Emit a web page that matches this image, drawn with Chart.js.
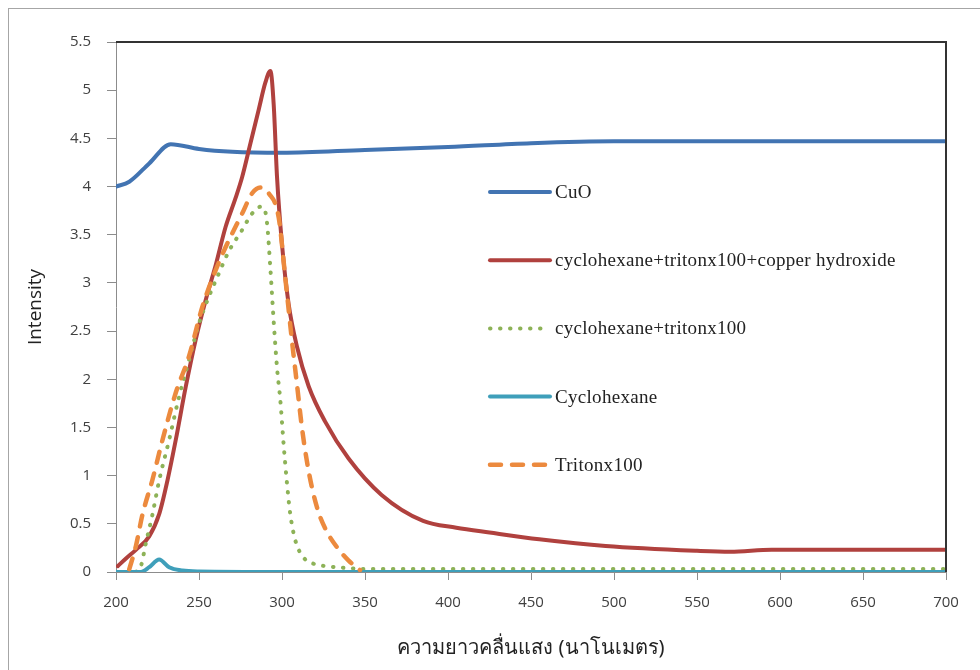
<!DOCTYPE html>
<html>
<head>
<meta charset="utf-8">
<script src="https://cdn.jsdelivr.net/npm/chart.js@4.4.1/dist/chart.umd.min.js"></script>
<style>
  body { margin: 0; background: #fff; }
  #wrap { width: 980px; height: 670px; }
</style>
</head>
<body>
<div id="wrap"><canvas id="myChart" width="980" height="670"></canvas></div>
<script>
// wavelength (nm) / intensity readings for each series
const cuoX = [200, 208, 220, 233, 250, 270, 300, 350, 400, 450, 500, 600, 700];
const cuoY = [4.00, 4.05, 4.24, 4.44, 4.39, 4.36, 4.35, 4.38, 4.41, 4.45, 4.47, 4.47, 4.47];

const copperX = [201, 206, 212, 220, 226, 231, 236, 242, 248, 254, 260, 266, 272, 276, 281, 286, 290, 293, 295, 297, 300, 304, 309, 316, 326, 340, 360, 385, 405, 425, 455, 495, 550, 570, 595, 650, 700];
const copperY = [0.06, 0.14, 0.23, 0.37, 0.60, 0.95, 1.37, 1.92, 2.41, 2.82, 3.18, 3.58, 3.88, 4.10, 4.45, 4.80, 5.08, 5.20, 4.85, 4.10, 3.40, 2.78, 2.34, 1.93, 1.56, 1.18, 0.80, 0.53, 0.46, 0.41, 0.34, 0.27, 0.22, 0.21, 0.23, 0.23, 0.23];

const mixX = [212, 215, 218, 222, 226, 232, 238, 244, 250, 256, 262, 268, 276, 282, 287, 289, 291, 293, 295, 297, 299, 301, 303, 305, 308, 313, 320, 327, 340, 350, 700];
const mixY = [0.00, 0.06, 0.30, 0.60, 0.95, 1.37, 1.82, 2.20, 2.58, 2.86, 3.10, 3.33, 3.55, 3.72, 3.79, 3.78, 3.62, 3.15, 2.60, 2.12, 1.78, 1.32, 0.92, 0.60, 0.33, 0.15, 0.08, 0.06, 0.04, 0.03, 0.03];

const cycloX = [200, 215, 220, 226, 232, 240, 250, 300, 700];
const cycloY = [0.00, 0.00, 0.05, 0.13, 0.05, 0.015, 0.005, 0.00, 0.00];

const tritonX = [208, 212, 216, 222, 228, 236, 244, 252, 260, 266, 276, 282, 287, 292, 298, 302, 306, 309, 312, 315, 318, 322, 327, 333, 340, 347];
const tritonY = [0.03, 0.27, 0.60, 0.96, 1.37, 1.86, 2.24, 2.75, 3.13, 3.37, 3.72, 3.93, 3.99, 3.93, 3.68, 3.05, 2.40, 1.95, 1.50, 1.15, 0.88, 0.62, 0.42, 0.26, 0.12, 0.02];

const seriesNames = ['CuO', 'cyclohexane+tritonx100+copper hydroxide', 'cyclohexane+tritonx100', 'Cyclohexane', 'Tritonx100'];
const xTitle = 'ความยาวคลื่นแสง (นาโนเมตร)';
const yTitle = 'Intensity';

function pts(xs, ys) {
  return xs.map((x, i) => ({ x: x, y: ys[i] }));
}

function line(label, xs, ys, color, extra) {
  return Object.assign({
    label: label,
    data: pts(xs, ys),
    borderColor: color,
    backgroundColor: color,
    borderWidth: 4,
    pointRadius: 0,
    fill: false,
    cubicInterpolationMode: 'monotone',
    borderCapStyle: 'round',
    borderJoinStyle: 'round'
  }, extra || {});
}

const datasets = [
  line(seriesNames[0], cuoX, cuoY, '#4274b2', { order: 5 }),
  line(seriesNames[1], copperX, copperY, '#b0413e', { order: 4 }),
  line(seriesNames[2], mixX, mixY, '#8db257', { order: 3, borderDash: [0.5, 9.5], borderWidth: 4 }),
  line(seriesNames[3], cycloX, cycloY, '#3f9fba', { order: 2 }),
  line(seriesNames[4], tritonX, tritonY, '#ec8a3e', { order: 1, borderDash: [11, 11], borderWidth: 4.5 })
];

// frame around the whole picture, dark top/right border of the plot, in-plot legend
const decorations = {
  id: 'decorations',
  beforeDraw(chart) {
    const c = chart.ctx;
    c.save();
    c.fillStyle = '#fff';
    c.fillRect(0, 0, chart.width, chart.height);
    c.strokeStyle = '#a6a6a6';
    c.lineWidth = 1;
    c.strokeRect(8.5, 8.5, chart.width, chart.height);
    c.restore();
  },
  afterDraw(chart) {
    const c = chart.ctx;
    const a = chart.chartArea;
    c.save();
    c.strokeStyle = '#333';
    c.lineWidth = 2;
    c.beginPath();
    c.moveTo(a.left, a.top);
    c.lineTo(a.right, a.top);
    c.lineTo(a.right, a.bottom);
    c.stroke();

    // legend
    const x0 = a.left + 374, x1 = a.left + 434, tx = a.left + 439;
    c.font = '19px "Liberation Serif", "Times New Roman", serif';
    c.letterSpacing = '0.3px';
    c.textBaseline = 'middle';
    chart.data.datasets.forEach((ds, i) => {
      const y = a.top + 150 + i * 68.2;
      c.beginPath();
      c.strokeStyle = ds.borderColor;
      c.lineWidth = ds.borderWidth;
      c.lineCap = 'round';
      c.setLineDash(ds.borderDash || []);
      c.moveTo(x0, y);
      c.lineTo(x1, y);
      c.stroke();
      c.setLineDash([]);
      c.fillStyle = '#222';
      c.fillText(ds.label, tx, y + 1);
    });
    c.restore();
  }
};

const ctx = document.getElementById('myChart').getContext('2d');

const myChart = new Chart(ctx, {
  type: 'line',
  data: { datasets: datasets },
  options: {
    responsive: false,
    animation: false,
    layout: { padding: { top: 42, right: 34, left: 0, bottom: 0 } },
    plugins: {
      legend: { display: false },
      tooltip: { enabled: false }
    },
    scales: {
      x: {
        type: 'linear',
        min: 200,
        max: 700,
        ticks: {
          stepSize: 50,
          padding: 14,
          color: '#404040',
          font: { family: '"Open Sans", sans-serif', size: 15 }
        },
        grid: { drawOnChartArea: false, drawTicks: true, tickLength: 8, color: '#8c8c8c' },
        border: { display: true, color: '#8c8c8c', width: 1 },
        title: {
          display: true,
          text: xTitle,
          color: '#222',
          font: { family: '"Noto Sans", "Open Sans", sans-serif', size: 20 },
          padding: { top: 10, bottom: 10 }
        },
        afterFit(scale) { scale.height = 98; }
      },
      y: {
        min: 0,
        max: 5.5,
        ticks: {
          stepSize: 0.5,
          padding: 16,
          color: '#404040',
          font: { family: '"Open Sans", sans-serif', size: 15 },
          callback: (v) => String(v)
        },
        grid: { drawOnChartArea: false, drawTicks: true, tickLength: 9, color: '#8c8c8c' },
        border: { display: true, color: '#8c8c8c', width: 1 },
        title: {
          display: true,
          text: yTitle,
          color: '#222',
          font: { family: '"Open Sans", sans-serif', size: 19 },
          padding: { top: 24, bottom: 24 }
        },
        afterFit(scale) { scale.width = 116; }
      }
    }
  },
  plugins: [decorations]
});
</script>
</body>
</html>
